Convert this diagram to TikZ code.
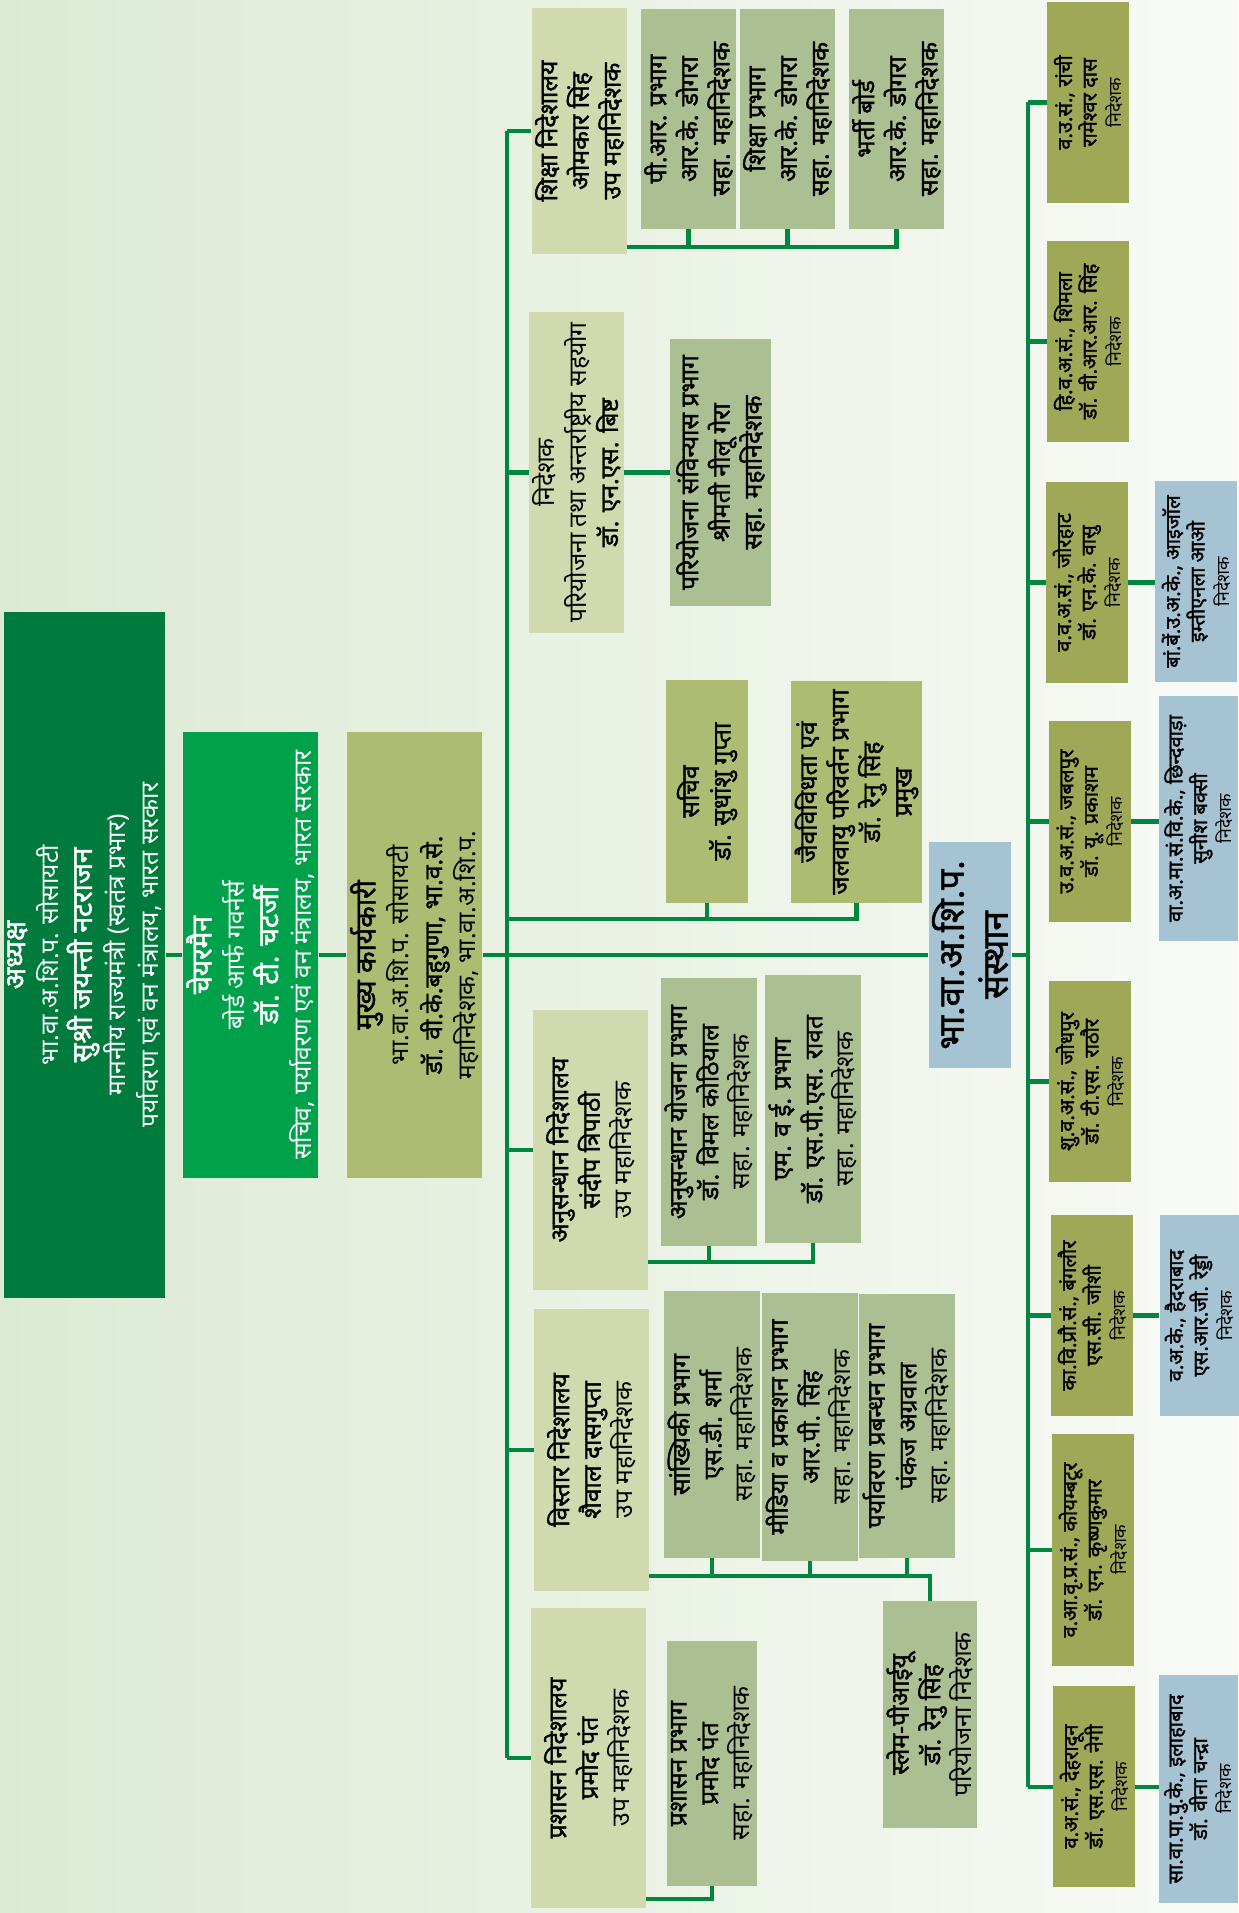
\documentclass[tikz,border=0pt]{standalone}
\usepackage{fontspec}
\setmainfont[Script=Devanagari, BoldFont=Noto Sans, BoldFeatures={FakeBold=1.6}]{Noto Sans}
\usepackage{tikz}
\definecolor{bgl}{HTML}{DCEAD3}
\definecolor{bgr}{HTML}{F8FAF6}
\definecolor{dkgreen}{HTML}{007A3D}
\definecolor{brgreen}{HTML}{00A14B}
\definecolor{olive}{HTML}{AEBB72}
\definecolor{dirfill}{HTML}{D1DAAE}
\definecolor{subfill}{HTML}{ACBF93}
\definecolor{instfill}{HTML}{9FA857}
\definecolor{unitfill}{HTML}{A6C3D3}
\definecolor{linec}{HTML}{00873F}
\tikzset{
  link/.style={draw=linec, line width=2.3pt},
  box/.style={rotate=90, align=center, inner sep=2pt, text=black},
  head/.style={box, text=white, font=\fontsize{14}{19}\selectfont},
  dir/.style={box, fill=dirfill, font=\fontsize{14}{18}\selectfont},
  sub/.style={box, fill=subfill, font=\fontsize{14}{18}\selectfont},
  inst/.style={box, fill=instfill, minimum height=1.64cm, minimum width=4.02cm, font=\fontsize{11.5}{14}\selectfont},
  unit/.style={box, fill=unitfill, minimum height=1.58cm, minimum width=4.02cm, font=\fontsize{11.5}{14}\selectfont},
}
\begin{document}
\begin{tikzpicture}[x=0.02cm, y=-0.02cm]
  \useasboundingbox (0,0) rectangle (1238,1913);
  \shade[left color=bgl, right color=bgr] (0,0) rectangle (1238,1913);

  % society, board, chief executive
  \node[head, fill=dkgreen, minimum width=13.72cm, minimum height=3.22cm] (adhyaksh) at (84.5,955)
    {{\fontsize{16}{19}\selectfont\bfseries अध्यक्ष}\\भा.वा.अ.शि.प. सोसायटी\\{\fontsize{16}{19}\selectfont\bfseries सुश्री जयन्ती नटराजन}\\माननीय राज्यमंत्री (स्वतंत्र प्रभार)\\पर्यावरण एवं वन मंत्रालय, भारत सरकार};
  \node[head, fill=brgreen, minimum width=8.92cm, minimum height=2.62cm] (chair) at (250.5,955)
    {{\fontsize{16}{19}\selectfont\bfseries चेयरमैन}\\बोर्ड आर्फ गवर्नर्स\\{\fontsize{16}{19}\selectfont\bfseries डॉ. टी. चटर्जी}\\सचिव, पर्यावरण एवं वन मंत्रालय, भारत सरकार};
  \node[box, fill=olive, minimum width=8.92cm, minimum height=2.62cm, font=\fontsize{14}{19}\selectfont] (mukhya) at (414.5,955)
    {{\fontsize{16}{19}\selectfont\bfseries मुख्य कार्यकारी}\\भा.वा.अ.शि.प. सोसायटी\\{\bfseries डॉ. वी.के.बहुगुणा, भा.व.से.}\\महानिदेशक, भा.वा.अ.शि.प.};

  % directorates
  \node[dir, minimum width=4.92cm, minimum height=1.9cm] (shiksha) at (579.5,131)
    {{\bfseries शिक्षा निदेशालय}\\{\bfseries ओमकार सिंह}\\{\bfseries उप महानिदेशक}};
  \node[dir, minimum width=6.42cm, minimum height=1.9cm] (nideshak) at (576.5,472.5)
    {निदेशक\\परियोजना तथा अन्तर्राष्ट्रीय सहयोग\\{\bfseries डॉ. एन.एस. बिष्ट}};
  \node[dir, minimum width=5.6cm, minimum height=2.3cm] (anusandhan) at (590.5,1150)
    {{\bfseries अनुसन्धान निदेशालय}\\{\bfseries संदीप त्रिपाठी}\\उप महानिदेशक};
  \node[dir, minimum width=5.64cm, minimum height=2.3cm] (vistar) at (591.5,1450)
    {{\bfseries विस्तार निदेशालय}\\{\bfseries शैवाल दासगुप्ता}\\उप महानिदेशक};
  \node[dir, minimum width=6.0cm, minimum height=2.3cm] (prashasan) at (588.5,1758)
    {{\bfseries प्रशासन निदेशालय}\\{\bfseries प्रमोद पंत}\\उप महानिदेशक};

  % divisions
  \node[sub, minimum width=4.4cm, minimum height=1.82cm] (prP) at (688.5,119)
    {{\bfseries पी.आर. प्रभाग}\\{\bfseries आर.के. डोगरा}\\{\bfseries सहा. महानिदेशक}};
  \node[sub, minimum width=4.4cm, minimum height=1.86cm] (shikshaP) at (787.5,119)
    {{\bfseries शिक्षा प्रभाग}\\{\bfseries आर.के. डोगरा}\\{\bfseries सहा. महानिदेशक}};
  \node[sub, minimum width=4.4cm, minimum height=1.9cm] (bharti) at (896.5,119)
    {{\bfseries भर्ती बोर्ड}\\{\bfseries आर.के. डोगरा}\\{\bfseries सहा. महानिदेशक}};
  \node[sub, minimum width=5.34cm, minimum height=2.02cm] (sanvinyas) at (720.5,472.5)
    {{\bfseries परियोजना संविन्यास प्रभाग}\\{\bfseries श्रीमती नीलू गेरा}\\{\bfseries सहा. महानिदेशक}};
  \node[box, fill=olive, minimum width=4.46cm, minimum height=1.64cm, font=\fontsize{14}{18}\selectfont\bfseries] (sachiv) at (707,791.5)
    {सचिव\\डॉ. सुधांशु गुप्ता};
  \node[box, fill=olive, minimum width=4.44cm, minimum height=2.46cm, font=\fontsize{14}{18}\selectfont\bfseries] (jaiv) at (856.5,792)
    {जैवविविधता एवं\\जलवायु परिवर्तन प्रभाग\\डॉ. रेनु सिंह\\प्रमुख};
  \node[sub, minimum width=5.36cm, minimum height=1.64cm] (yojana) at (709,1112)
    {{\bfseries अनुसन्धान योजना प्रभाग}\\{\bfseries डॉ. विमल कोठियाल}\\सहा. महानिदेशक};
  \node[sub, minimum width=5.36cm, minimum height=1.8cm] (mne) at (813,1109)
    {{\bfseries एम. व ई. प्रभाग}\\{\bfseries डॉ. एस.पी.एस. रावत}\\सहा. महानिदेशक};
  \node[sub, minimum width=5.34cm, minimum height=1.8cm] (sankhyiki) at (712,1424.5)
    {{\bfseries सांख्यिकी प्रभाग}\\{\bfseries एस.डी. शर्मा}\\सहा. महानिदेशक};
  \node[sub, minimum width=5.36cm, minimum height=1.8cm] (media) at (810,1427)
    {{\bfseries मीडिया व प्रकाशन प्रभाग}\\{\bfseries आर.पी. सिंह}\\सहा. महानिदेशक};
  \node[sub, minimum width=5.28cm, minimum height=1.8cm] (prabandhan) at (907,1426)
    {{\bfseries पर्यावरण प्रबन्धन प्रभाग}\\{\bfseries पंकज अग्रवाल}\\सहा. महानिदेशक};
  \node[sub, minimum width=4.54cm, minimum height=1.8cm] (slem) at (930,1714.5)
    {{\bfseries स्लेम-पीआईयू}\\{\bfseries डॉ. रेनु सिंह}\\परियोजना निदेशक};
  \node[sub, minimum width=4.9cm, minimum height=1.76cm] (prashasanP) at (712,1763.5)
    {{\bfseries प्रशासन प्रभाग}\\{\bfseries प्रमोद पंत}\\सहा. महानिदेशक};

  % institutes
  \node[box, fill=unitfill, minimum width=4.54cm, minimum height=1.64cm, font=\fontsize{20}{25}\selectfont\bfseries] (sansthan) at (970,955)
    {भा.वा.अ.शि.प.\\संस्थान};
  \node[inst] (ranchi) at (1088,102.5)
    {{\bfseries व.उ.सं., रांची}\\{\bfseries रामेश्वर दास}\\{\fontsize{10}{12}\selectfont निदेशक}};
  \node[inst] (shimla) at (1088,341.5)
    {{\bfseries हि.व.अ.सं., शिमला}\\{\bfseries डॉ. वी.आर.आर. सिंह}\\{\fontsize{10}{12}\selectfont निदेशक}};
  \node[inst] (jorhat) at (1087,582.5)
    {{\bfseries व.व.अ.सं., जोरहाट}\\{\bfseries डॉ. एन.के. वासु}\\{\fontsize{10}{12}\selectfont निदेशक}};
  \node[inst] (jabalpur) at (1090,821.5)
    {{\bfseries उ.व.अ.सं., जबलपुर}\\{\bfseries डॉ. यू. प्रकाशम}\\{\fontsize{10}{12}\selectfont निदेशक}};
  \node[inst] (jodhpur) at (1090,1081.5)
    {{\bfseries शु.व.अ.सं., जोधपुर}\\{\bfseries डॉ. टी.एस. राठौर}\\{\fontsize{10}{12}\selectfont निदेशक}};
  \node[inst] (bangalore) at (1092,1315.5)
    {{\bfseries का.वि.प्रौ.सं., बंगलौर}\\{\bfseries एस.सी. जोशी}\\{\fontsize{10}{12}\selectfont निदेशक}};
  \node[inst, minimum width=4.64cm] (coimbatore) at (1093,1550)
    {{\bfseries व.आ.वृ.प्र.सं., कोयम्बटूर}\\{\bfseries डॉ. एन. कृष्णकुमार}\\{\fontsize{10}{12}\selectfont निदेशक}};
  \node[inst] (dehradun) at (1094,1786.5)
    {{\bfseries व.अ.सं., देहरादून}\\{\bfseries डॉ. एस.एस. नेगी}\\{\fontsize{10}{12}\selectfont निदेशक}};
  \node[unit, minimum height=1.64cm] (aizawl) at (1196,581.5)
    {{\bfseries बां.बें.उ.अ.के., आइजॉल}\\{\bfseries इम्तीएनला आओ}\\{\fontsize{10}{12}\selectfont निदेशक}};
  \node[unit, minimum width=4.9cm] (chhindwara) at (1198.5,818.5)
    {{\bfseries वा.अ.मा.सं.वि.के., छिन्दवाड़ा}\\{\bfseries सुनीश बक्सी}\\{\fontsize{10}{12}\selectfont निदेशक}};
  \node[unit] (hyderabad) at (1199,1315.5)
    {{\bfseries व.अ.के., हैदराबाद}\\{\bfseries एस.आर.जी. रेड्डी}\\{\fontsize{10}{12}\selectfont निदेशक}};
  \node[unit, minimum width=4.56cm] (allahabad) at (1198.5,1789)
    {{\bfseries सा.वा.पा.पु.के., इलाहाबाद}\\{\bfseries डॉ. वीना चन्द्रा}\\{\fontsize{10}{12}\selectfont निदेशक}};

  % bus points
  \coordinate (trunk) at (507,0);
  \coordinate (rtrunk) at (1028,0);
  \coordinate (sbus) at (507,919);
  \coordinate (shbus) at (627,247);
  \coordinate (abus) at (648,1262);
  \coordinate (vbus) at (649,1576);
  \coordinate (pbus) at (646,1899);

  % connectors
  \draw[link] (adhyaksh.south) -- (chair.north);
  \draw[link] (chair.south) -- (mukhya.north);
  \draw[link] (mukhya.south) -- (sansthan.north);
  \draw[link] (trunk |- shiksha) -- (trunk |- prashasan);
  \foreach \n in {shiksha,nideshak,anusandhan,vistar,prashasan}
    \draw[link] (trunk |- \n) -- (\n.north);
  \draw[link] (sbus) -| (jaiv.west);
  \draw[link] (sachiv.west) -- (sachiv.west |- sbus);
  \draw[link] (shbus) -| (bharti.west);
  \foreach \n in {prP,shikshaP}
    \draw[link] (\n.west) -- (\n.west |- shbus);
  \draw[link] (nideshak.south) -- (sanvinyas.north);
  \draw[link] (abus) -| (mne.west);
  \draw[link] (yojana.west) -- (yojana.west |- abus);
  \draw[link] (vbus) -| (slem.east);
  \foreach \n in {sankhyiki,media,prabandhan}
    \draw[link] (\n.west) -- (\n.west |- vbus);
  \draw[link] (pbus) -| (prashasanP.west);

  \draw[link] (sansthan.south) -- (rtrunk |- sansthan);
  \draw[link] (rtrunk |- ranchi) -- (rtrunk |- dehradun);
  \foreach \n in {ranchi,shimla,jorhat,jabalpur,jodhpur,bangalore,coimbatore,dehradun}
    \draw[link] (rtrunk |- \n) -- (\n.north);
  \draw[link] (jorhat.south) -- (jorhat.south -| aizawl.north);
  \draw[link] (jabalpur.south) -- (jabalpur.south -| chhindwara.north);
  \draw[link] (bangalore.south) -- (bangalore.south -| hyderabad.north);
  \draw[link] (dehradun.south) -- (dehradun.south -| allahabad.north);
\end{tikzpicture}
\end{document}
